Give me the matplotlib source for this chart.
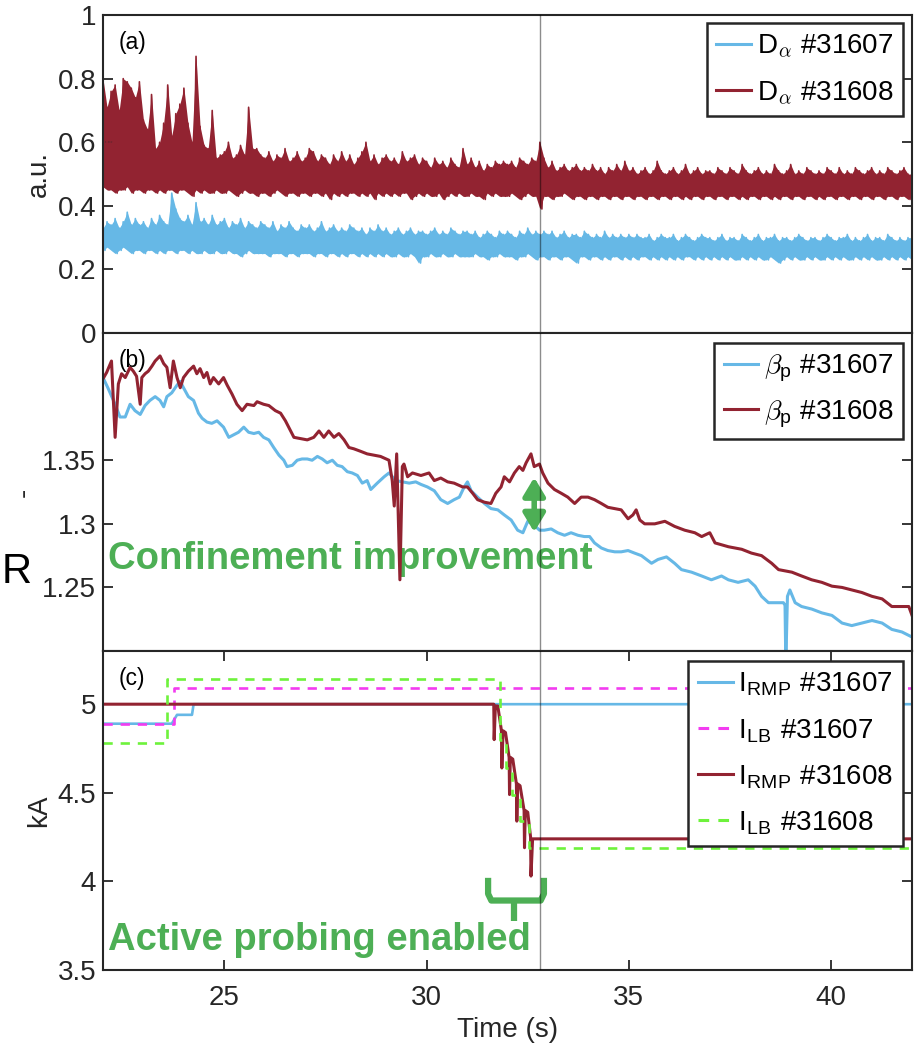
import numpy as np
import matplotlib
matplotlib.use("Agg")
import matplotlib.pyplot as plt

# ── Colours ────────────────────────────────────────────────────────────────
C_BLUE = "#66B8E6"
C_RED = "#922331"
C_MAG = "#F23CF0"
C_LIME = "#6EF23C"
C_NOTE = "#4DAF55"
C_AX = "#262626"

T_MARK = 32.8  # time of the grey marker line (s)

# ── (a) D_alpha envelopes, sampled every 0.1 s from 22 s to 42 s ────────────
da_t = np.round(np.arange(22.0, 42.05, 0.1), 2)

da_hi_31607 = [
    0.33, 0.35, 0.34, 0.36, 0.33, 0.35, 0.38, 0.34, 0.36, 0.34,
    0.35, 0.33, 0.36, 0.34, 0.37, 0.35, 0.34, 0.44, 0.39, 0.36,
    0.35, 0.37, 0.34, 0.41, 0.35, 0.36, 0.34, 0.37, 0.34, 0.35,
    0.36, 0.33, 0.35, 0.34, 0.36, 0.33, 0.35, 0.34, 0.33, 0.35,
    0.34, 0.33, 0.35, 0.32, 0.34, 0.33, 0.35, 0.33, 0.32, 0.34,
    0.33, 0.34, 0.32, 0.33, 0.35, 0.32, 0.33, 0.34, 0.32, 0.33,
    0.32, 0.34, 0.33, 0.32, 0.33, 0.31, 0.33, 0.32, 0.34, 0.32,
    0.33, 0.31, 0.32, 0.33, 0.31, 0.32, 0.33, 0.31, 0.32, 0.32,
    0.31, 0.32, 0.33, 0.31, 0.32, 0.31, 0.33, 0.32, 0.31, 0.32,
    0.32, 0.31, 0.32, 0.30, 0.31, 0.32, 0.31, 0.30, 0.32, 0.31,
    0.32, 0.31, 0.30, 0.32, 0.31, 0.33, 0.31, 0.32, 0.31, 0.32,
    0.31, 0.32, 0.30, 0.31, 0.32, 0.30, 0.31, 0.31, 0.30, 0.32,
    0.31, 0.30, 0.31, 0.30, 0.32, 0.30, 0.31, 0.30, 0.31, 0.30,
    0.31, 0.30, 0.31, 0.30, 0.30, 0.31, 0.29, 0.30, 0.31, 0.30,
    0.30, 0.31, 0.29, 0.30, 0.31, 0.30, 0.29, 0.30, 0.31, 0.30,
    0.30, 0.29, 0.30, 0.31, 0.29, 0.30, 0.30, 0.29, 0.31, 0.30,
    0.29, 0.30, 0.31, 0.29, 0.30, 0.30, 0.31, 0.29, 0.30, 0.30,
    0.29, 0.30, 0.31, 0.30, 0.29, 0.30, 0.30, 0.29, 0.30, 0.31,
    0.30, 0.29, 0.30, 0.30, 0.31, 0.29, 0.30, 0.29, 0.30, 0.31,
    0.29, 0.30, 0.30, 0.29, 0.31, 0.30, 0.29, 0.30, 0.29, 0.30,
    0.30,
]
da_lo_31607 = [
    0.26, 0.27, 0.26, 0.25, 0.26, 0.27, 0.26, 0.25, 0.26, 0.26,
    0.25, 0.26, 0.26, 0.25, 0.26, 0.25, 0.26, 0.26, 0.25, 0.26,
    0.26, 0.25, 0.26, 0.25, 0.25, 0.26, 0.25, 0.25, 0.26, 0.25,
    0.25, 0.26, 0.25, 0.25, 0.24, 0.25, 0.26, 0.25, 0.25, 0.25,
    0.25, 0.24, 0.25, 0.25, 0.25, 0.24, 0.25, 0.25, 0.24, 0.25,
    0.25, 0.25, 0.24, 0.25, 0.25, 0.24, 0.25, 0.25, 0.24, 0.25,
    0.24, 0.25, 0.25, 0.24, 0.25, 0.24, 0.25, 0.24, 0.25, 0.24,
    0.25, 0.24, 0.24, 0.25, 0.24, 0.24, 0.25, 0.24, 0.22, 0.24,
    0.24, 0.25, 0.24, 0.24, 0.25, 0.24, 0.24, 0.25, 0.24, 0.24,
    0.24, 0.24, 0.25, 0.24, 0.24, 0.23, 0.24, 0.24, 0.25, 0.24,
    0.24, 0.24, 0.23, 0.24, 0.24, 0.25, 0.24, 0.23, 0.24, 0.24,
    0.23, 0.24, 0.24, 0.23, 0.24, 0.24, 0.23, 0.22, 0.24, 0.24,
    0.23, 0.24, 0.24, 0.23, 0.24, 0.23, 0.24, 0.24, 0.23, 0.24,
    0.23, 0.24, 0.23, 0.24, 0.24, 0.23, 0.24, 0.23, 0.24, 0.23,
    0.24, 0.23, 0.24, 0.23, 0.24, 0.24, 0.23, 0.24, 0.23, 0.24,
    0.23, 0.24, 0.23, 0.24, 0.23, 0.24, 0.23, 0.23, 0.24, 0.23,
    0.24, 0.23, 0.24, 0.23, 0.23, 0.24, 0.23, 0.22, 0.23, 0.24,
    0.23, 0.24, 0.23, 0.23, 0.24, 0.23, 0.24, 0.23, 0.23, 0.24,
    0.23, 0.24, 0.23, 0.24, 0.23, 0.23, 0.24, 0.23, 0.24, 0.23,
    0.24, 0.23, 0.23, 0.24, 0.23, 0.24, 0.23, 0.24, 0.23, 0.24,
    0.23,
]
da_hi_31608 = [
    0.80, 0.71, 0.76, 0.78, 0.70, 0.80, 0.79, 0.77, 0.74, 0.79,
    0.67, 0.64, 0.75, 0.58, 0.60, 0.66, 0.78, 0.62, 0.69, 0.72,
    0.77, 0.66, 0.60, 0.87, 0.65, 0.59, 0.58, 0.70, 0.55, 0.56,
    0.57, 0.60, 0.55, 0.56, 0.59, 0.56, 0.71, 0.58, 0.58, 0.56,
    0.55, 0.57, 0.54, 0.56, 0.55, 0.58, 0.54, 0.55, 0.57, 0.54,
    0.55, 0.58, 0.57, 0.54, 0.56, 0.55, 0.53, 0.56, 0.54, 0.57,
    0.54, 0.56, 0.53, 0.55, 0.57, 0.60, 0.54, 0.56, 0.53, 0.55,
    0.56, 0.54, 0.55, 0.53, 0.57, 0.54, 0.55, 0.56, 0.53, 0.55,
    0.54, 0.52, 0.55, 0.53, 0.54, 0.52, 0.55, 0.53, 0.52, 0.58,
    0.53, 0.55, 0.52, 0.54, 0.51, 0.53, 0.52, 0.54, 0.53, 0.54,
    0.53, 0.54, 0.52, 0.55, 0.54, 0.53, 0.55, 0.54, 0.60, 0.55,
    0.52, 0.54, 0.51, 0.52, 0.53, 0.51, 0.52, 0.53, 0.51, 0.52,
    0.51, 0.53, 0.51, 0.52, 0.50, 0.52, 0.51, 0.53, 0.51, 0.54,
    0.51, 0.52, 0.50, 0.51, 0.52, 0.50, 0.51, 0.54, 0.51, 0.50,
    0.51, 0.52, 0.50, 0.51, 0.53, 0.50, 0.51, 0.52, 0.50, 0.51,
    0.51, 0.50, 0.52, 0.51, 0.50, 0.52, 0.51, 0.50, 0.53, 0.51,
    0.50, 0.51, 0.52, 0.50, 0.51, 0.50, 0.53, 0.51, 0.50, 0.51,
    0.53, 0.50, 0.51, 0.50, 0.52, 0.51, 0.50, 0.51, 0.50, 0.52,
    0.51, 0.50, 0.52, 0.50, 0.51, 0.50, 0.52, 0.51, 0.50, 0.51,
    0.52, 0.50, 0.51, 0.50, 0.52, 0.51, 0.50, 0.51, 0.52, 0.50,
    0.50,
]
da_lo_31608 = [
    0.46, 0.45, 0.45, 0.44, 0.45, 0.45, 0.46, 0.44, 0.45, 0.45,
    0.44, 0.45, 0.45, 0.44, 0.45, 0.44, 0.45, 0.45, 0.44, 0.45,
    0.45, 0.44, 0.43, 0.45, 0.44, 0.45, 0.44, 0.44, 0.45, 0.44,
    0.44, 0.45, 0.44, 0.43, 0.44, 0.45, 0.44, 0.44, 0.43, 0.44,
    0.44, 0.43, 0.44, 0.45, 0.44, 0.43, 0.44, 0.44, 0.43, 0.44,
    0.44, 0.43, 0.44, 0.44, 0.43, 0.44, 0.42, 0.44, 0.43, 0.44,
    0.43, 0.44, 0.44, 0.43, 0.44, 0.43, 0.44, 0.42, 0.44, 0.43,
    0.44, 0.43, 0.44, 0.43, 0.44, 0.44, 0.42, 0.43, 0.44, 0.43,
    0.44, 0.43, 0.43, 0.44, 0.42, 0.43, 0.44, 0.43, 0.44, 0.43,
    0.43, 0.44, 0.43, 0.43, 0.42, 0.44, 0.43, 0.44, 0.43, 0.43,
    0.43, 0.44, 0.43, 0.42, 0.43, 0.44, 0.43, 0.43, 0.39, 0.43,
    0.43, 0.42, 0.43, 0.43, 0.44, 0.43, 0.42, 0.43, 0.43, 0.42,
    0.43, 0.43, 0.42, 0.43, 0.43, 0.42, 0.43, 0.43, 0.42, 0.43,
    0.43, 0.42, 0.43, 0.43, 0.42, 0.43, 0.43, 0.42, 0.43, 0.43,
    0.42, 0.43, 0.43, 0.42, 0.43, 0.42, 0.43, 0.43, 0.42, 0.43,
    0.43, 0.42, 0.43, 0.43, 0.42, 0.43, 0.43, 0.42, 0.43, 0.42,
    0.43, 0.43, 0.42, 0.43, 0.43, 0.42, 0.43, 0.42, 0.43, 0.43,
    0.42, 0.43, 0.43, 0.42, 0.43, 0.43, 0.42, 0.43, 0.42, 0.43,
    0.43, 0.42, 0.43, 0.43, 0.42, 0.43, 0.43, 0.42, 0.43, 0.43,
    0.42, 0.43, 0.43, 0.42, 0.43, 0.43, 0.42, 0.43, 0.43, 0.42,
    0.43,
]

# ── (b) poloidal beta, (time s, value) ──────────────────────────────────────
bp_31607 = [
    (22.00, 1.415), (22.12, 1.407), (22.30, 1.394), (22.42, 1.384), (22.55, 1.384),
    (22.67, 1.394), (22.79, 1.389), (22.92, 1.386), (23.04, 1.393), (23.16, 1.397),
    (23.29, 1.400), (23.41, 1.397), (23.50, 1.392), (23.58, 1.400), (23.70, 1.403),
    (23.83, 1.409), (23.91, 1.412), (23.99, 1.407), (24.11, 1.400), (24.24, 1.397),
    (24.36, 1.387), (24.45, 1.383), (24.57, 1.380), (24.69, 1.379), (24.82, 1.381),
    (24.98, 1.376), (25.11, 1.368), (25.23, 1.370), (25.35, 1.372), (25.48, 1.376),
    (25.60, 1.372), (25.73, 1.371), (25.85, 1.372), (25.97, 1.368), (26.10, 1.366),
    (26.22, 1.360), (26.35, 1.354), (26.47, 1.350), (26.55, 1.345), (26.68, 1.346),
    (26.80, 1.350), (26.92, 1.351), (27.05, 1.351), (27.17, 1.350), (27.30, 1.353),
    (27.42, 1.351), (27.54, 1.348), (27.67, 1.350), (27.79, 1.346), (27.91, 1.345),
    (28.04, 1.341), (28.16, 1.340), (28.29, 1.338), (28.41, 1.332), (28.53, 1.334),
    (28.62, 1.327), (28.78, 1.332), (28.95, 1.337), (29.07, 1.340), (29.24, 1.334),
    (29.40, 1.333), (29.57, 1.332), (29.73, 1.333), (29.86, 1.331), (30.02, 1.329),
    (30.19, 1.326), (30.35, 1.319), (30.52, 1.316), (30.68, 1.319), (30.81, 1.321),
    (30.93, 1.329), (31.01, 1.333), (31.10, 1.326), (31.26, 1.321), (31.43, 1.316),
    (31.59, 1.312), (31.76, 1.311), (31.92, 1.307), (32.09, 1.303), (32.25, 1.295),
    (32.38, 1.293), (32.50, 1.302), (32.66, 1.299), (32.79, 1.295), (32.91, 1.295),
    (33.08, 1.296), (33.24, 1.293), (33.41, 1.291), (33.57, 1.293), (33.74, 1.291),
    (33.90, 1.290), (34.03, 1.290), (34.15, 1.285), (34.32, 1.281), (34.48, 1.279),
    (34.65, 1.278), (34.81, 1.278), (34.98, 1.279), (35.14, 1.277), (35.31, 1.275),
    (35.56, 1.269), (35.72, 1.272), (35.93, 1.274), (36.13, 1.269), (36.30, 1.264),
    (36.55, 1.262), (36.80, 1.259), (37.04, 1.256), (37.29, 1.259), (37.46, 1.256),
    (37.70, 1.254), (37.95, 1.256), (38.12, 1.251), (38.28, 1.243), (38.45, 1.238),
    (38.70, 1.238), (38.82, 1.238), (38.86, 1.236), (38.88, 1.190), (38.92, 1.243),
    (38.98, 1.248), (39.11, 1.238), (39.27, 1.235), (39.52, 1.233), (39.77, 1.230),
    (40.02, 1.228), (40.27, 1.222), (40.51, 1.220), (40.76, 1.222), (41.01, 1.224),
    (41.26, 1.222), (41.50, 1.217), (41.75, 1.215), (42.00, 1.211),
]
bp_31608 = [
    (22.00, 1.414), (22.09, 1.419), (22.21, 1.428), (22.30, 1.368), (22.38, 1.410),
    (22.46, 1.418), (22.55, 1.415), (22.67, 1.423), (22.75, 1.420), (22.83, 1.416),
    (22.92, 1.394), (22.96, 1.415), (23.04, 1.418), (23.12, 1.420), (23.21, 1.424),
    (23.29, 1.428), (23.41, 1.432), (23.50, 1.426), (23.58, 1.423), (23.66, 1.407),
    (23.74, 1.428), (23.83, 1.415), (23.91, 1.407), (23.99, 1.415), (24.11, 1.420),
    (24.24, 1.424), (24.32, 1.418), (24.40, 1.422), (24.49, 1.415), (24.57, 1.419),
    (24.65, 1.410), (24.73, 1.415), (24.86, 1.410), (24.98, 1.415), (25.07, 1.409),
    (25.19, 1.402), (25.31, 1.394), (25.44, 1.389), (25.56, 1.394), (25.73, 1.393),
    (25.81, 1.396), (25.97, 1.394), (26.10, 1.393), (26.26, 1.389), (26.39, 1.387),
    (26.51, 1.381), (26.59, 1.376), (26.72, 1.368), (26.88, 1.367), (27.05, 1.366),
    (27.21, 1.368), (27.34, 1.373), (27.46, 1.368), (27.58, 1.373), (27.71, 1.368),
    (27.83, 1.371), (27.96, 1.366), (28.08, 1.360), (28.20, 1.359), (28.37, 1.357),
    (28.53, 1.355), (28.70, 1.354), (28.86, 1.353), (29.07, 1.350), (29.15, 1.334),
    (29.20, 1.314), (29.26, 1.355), (29.34, 1.256), (29.40, 1.345), (29.44, 1.347),
    (29.53, 1.337), (29.65, 1.340), (29.86, 1.338), (30.06, 1.340), (30.19, 1.334),
    (30.35, 1.336), (30.52, 1.333), (30.68, 1.332), (30.89, 1.329), (31.01, 1.329),
    (31.14, 1.324), (31.26, 1.319), (31.43, 1.317), (31.59, 1.316), (31.71, 1.324),
    (31.84, 1.329), (31.92, 1.337), (32.05, 1.333), (32.17, 1.340), (32.29, 1.345),
    (32.38, 1.342), (32.46, 1.348), (32.58, 1.355), (32.66, 1.345), (32.79, 1.347),
    (32.87, 1.340), (33.00, 1.332), (33.16, 1.327), (33.33, 1.324), (33.49, 1.321),
    (33.66, 1.316), (33.82, 1.321), (33.99, 1.321), (34.15, 1.319), (34.32, 1.316),
    (34.48, 1.313), (34.65, 1.312), (34.81, 1.311), (34.98, 1.304), (35.10, 1.307),
    (35.18, 1.311), (35.27, 1.303), (35.39, 1.300), (35.64, 1.300), (35.89, 1.302),
    (36.13, 1.298), (36.38, 1.295), (36.63, 1.293), (36.80, 1.290), (37.00, 1.293),
    (37.13, 1.285), (37.46, 1.282), (37.79, 1.280), (38.03, 1.277), (38.28, 1.275),
    (38.53, 1.269), (38.70, 1.264), (39.03, 1.262), (39.27, 1.259), (39.52, 1.256),
    (39.77, 1.254), (40.02, 1.251), (40.27, 1.250), (40.51, 1.248), (40.76, 1.246),
    (41.01, 1.243), (41.26, 1.241), (41.50, 1.235), (41.75, 1.235), (41.92, 1.235),
    (42.00, 1.228),
]

# ── (c) coil currents in kA ─────────────────────────────────────────────────
irmp_t_31607 = [22.00, 23.70, 23.83, 24.20, 24.24, 42.00]
irmp_31607 = [4.89, 4.89, 4.94, 4.94, 5.00, 5.00]

ilb_t_31607 = [22.00, 23.76, 42.00]          # step changes
ilb_31607 = [4.89, 5.09, 5.09]

irmp_t_31608 = [22.00, 31.66, 31.67, 31.70, 31.76, 31.85, 31.86, 31.89, 31.95,
                32.04, 32.05, 32.07, 32.13, 32.22, 32.23, 32.25, 32.31, 32.41,
                32.42, 32.44, 32.50, 32.57, 32.58, 32.62, 42.00]
irmp_31608 = [5.00, 5.00, 4.80, 4.99, 4.99, 4.85, 4.64, 4.85, 4.84,
              4.70, 4.49, 4.70, 4.69, 4.55, 4.34, 4.55, 4.54, 4.40,
              4.19, 4.40, 4.39, 4.25, 4.03, 4.24, 4.24]

ilb_t_31608 = [22.00, 23.58, 31.81, 31.97, 32.12, 32.31, 32.52, 42.00]  # steps
ilb_31608 = [4.78, 5.14, 4.80, 4.64, 4.49, 4.34, 4.19, 4.19]

plt.rcParams.update({
    "font.family": ["Liberation Sans", "DejaVu Sans"],
    "mathtext.fontset": "cm",
    "font.size": 20,
    "axes.linewidth": 1.5,
    "axes.edgecolor": C_AX,
    "axes.labelcolor": C_AX,
    "xtick.color": C_AX,
    "ytick.color": C_AX,
    "xtick.direction": "in",
    "ytick.direction": "in",
    "xtick.major.size": 7,
    "ytick.major.size": 7,
    "xtick.major.width": 1.3,
    "ytick.major.width": 1.3,
    "xtick.labelsize": 20,
    "ytick.labelsize": 20,
    "legend.fontsize": 20,
})


def band_trace(t, hi, lo):
    """Interleave upper/lower samples so a dense signal reads as a band."""
    t = np.asarray(t, float)
    x = np.column_stack([t, t + 0.05]).ravel()
    y = np.column_stack([hi, lo]).ravel()
    return x, y


def boxed_legend(ax, anchor_y, spacing):
    leg = ax.legend(loc="upper right", bbox_to_anchor=(0.989, anchor_y),
                    borderaxespad=0.0, fancybox=False, framealpha=1.0,
                    edgecolor=C_AX, handlelength=1.25, handletextpad=0.2,
                    borderpad=0.35, labelspacing=spacing)
    leg.get_frame().set_linewidth(1.8)
    for ln in leg.get_lines():
        ln.set_linewidth(2.2)
    return leg


fig = plt.figure(figsize=(9.22, 10.44), dpi=100)
left, width = 0.1117, 0.8775
ax_a = fig.add_axes([left, 0.681, width, 0.3046])
ax_b = fig.add_axes([left, 0.3764, width, 0.3046])
ax_c = fig.add_axes([left, 0.0709, width, 0.3055])

# ── (a) ─────────────────────────────────────────────────────────────────────
for hi, lo, col, lab in [
    (da_hi_31607, da_lo_31607, C_BLUE, r"D$_{\alpha}$ #31607"),
    (da_hi_31608, da_lo_31608, C_RED, r"D$_{\alpha}$ #31608"),
]:
    ax_a.fill_between(da_t, lo, hi, color=col, lw=0)
    x, y = band_trace(da_t, hi, lo)
    ax_a.plot(x, y, color=col, lw=1.2, label=lab)
ax_a.set_ylim(0, 1)
ax_a.set_yticks([0, 0.2, 0.4, 0.6, 0.8, 1.0])
ax_a.set_yticklabels(["0", "0.2", "0.4", "0.6", "0.8", "1"])
ax_a.set_ylabel("a.u.")
boxed_legend(ax_a, 0.975, 0.7)

# ── (b) ─────────────────────────────────────────────────────────────────────
for series, col, lab in [
    (bp_31607, C_BLUE, r"$\beta_{\mathregular{p}}$ #31607"),
    (bp_31608, C_RED, r"$\beta_{\mathregular{p}}$ #31608"),
]:
    t, v = np.array(series).T
    ax_b.plot(t, v, color=col, lw=2.2, label=lab)
ax_b.set_ylim(1.2, 1.45)
ax_b.set_yticks([1.25, 1.3, 1.35])
ax_b.set_yticklabels(["1.25", "1.3", "1.35"])
ax_b.set_ylabel("-")
boxed_legend(ax_b, 0.9686, 0.5)
ax_b.text(0.006, 0.258, "Confinement improvement", transform=ax_b.transAxes,
          fontsize=27.5, fontweight="bold", color=C_NOTE, va="baseline",
          zorder=1)
ax_b.annotate("", xy=(32.66, 1.2935), xytext=(32.66, 1.3365),
              arrowprops=dict(arrowstyle="<|-|>,head_length=0.55,head_width=0.33",
                              color=C_NOTE, lw=4, shrinkA=0, shrinkB=0,
                              mutation_scale=20), zorder=4)

# ── (c) ─────────────────────────────────────────────────────────────────────
ax_c.plot(irmp_t_31607, irmp_31607, color=C_BLUE, lw=1.9,
          label=r"I$_{\mathregular{RMP}}$ #31607")
ax_c.plot(ilb_t_31607, ilb_31607, color=C_MAG, lw=1.9, ls="--",
          dashes=(3.5, 3), drawstyle="steps-post",
          label=r"I$_{\mathregular{LB}}$ #31607")
ax_c.plot(irmp_t_31608, irmp_31608, color=C_RED, lw=2.2,
          label=r"I$_{\mathregular{RMP}}$ #31608")
ax_c.plot(ilb_t_31608, ilb_31608, color=C_LIME, lw=1.9, ls="--",
          dashes=(3.5, 3), drawstyle="steps-post",
          label=r"I$_{\mathregular{LB}}$ #31608")
ax_c.set_ylim(3.5, 5.3)
ax_c.set_yticks([3.5, 4, 4.5, 5])
ax_c.set_yticklabels(["3.5", "4", "4.5", "5"])
ax_c.set_ylabel("kA")
ax_c.set_xlabel("Time (s)")
boxed_legend(ax_c, 0.9687, 0.66)
ax_c.text(0.006, 0.0627, "Active probing enabled", transform=ax_c.transAxes,
          fontsize=27.5, fontweight="bold", color=C_NOTE, va="baseline",
          zorder=1)
# curly brace under the probing window
ax_c.plot([31.52, 31.52, 31.60, 32.82, 32.90, 32.90],
          [4.02, 3.93, 3.892, 3.892, 3.93, 4.02],
          color=C_NOTE, lw=4.5, solid_joinstyle="round", solid_capstyle="butt")
ax_c.plot([32.16, 32.16], [3.892, 3.775], color=C_NOTE, lw=4.5,
          solid_capstyle="butt")

# ── shared cosmetics ────────────────────────────────────────────────────────
for ax, lab in [(ax_a, "(a)"), (ax_b, "(b)"), (ax_c, "(c)")]:
    ax.set_xlim(22, 42)
    ax.axvline(T_MARK, color="black", alpha=0.45, lw=1.0, zorder=5)
    ax.text(0.019, 0.915, lab, transform=ax.transAxes, fontsize=16.5,
            va="center", color="black")
    ax.tick_params(axis="y", left=True, right=True, pad=5)
for ax in (ax_a, ax_b):
    ax.set_xticks([])
ax_c.set_xticks([25, 30, 35, 40])
ax_c.tick_params(axis="x", top=True, bottom=True, pad=11)

# stray glyph at the left border of the source figure
fig.text(0.002, 0.4416, "R", fontsize=30, va="baseline", color="black")

fig.savefig("out.png", dpi=100)
